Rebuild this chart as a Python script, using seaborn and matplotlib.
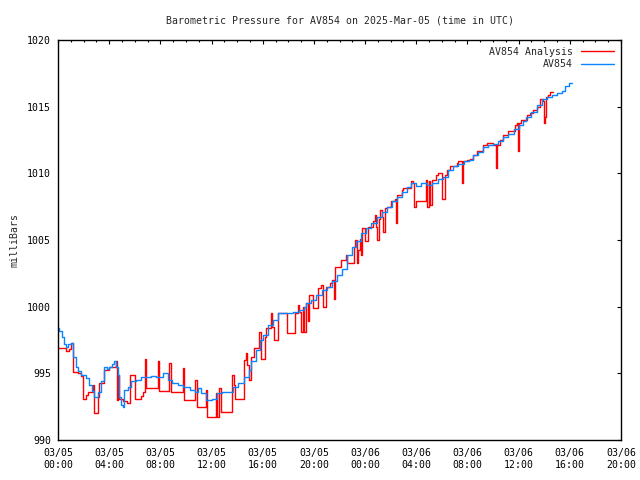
import pandas as pd
import matplotlib
matplotlib.use("Agg")
import matplotlib.pyplot as plt
import matplotlib.dates as mdates
import seaborn as sns

# hours after 2025-03-05 00:00 UTC, pressure in mb
blue_hours = [0.00, 0.10, 0.30, 0.50, 0.63, 0.80, 1.00, 1.15, 1.40, 1.60, 1.80, 2.20, 2.45, 2.65,
              2.84, 3.10, 3.36, 3.60, 3.80, 4.00, 4.20, 4.40, 4.55, 4.66, 4.80, 4.95, 5.05, 5.18,
              5.45, 5.70, 6.10, 6.50, 6.90, 7.30, 7.66, 7.97, 8.20, 8.60, 8.90, 9.40, 9.80, 10.30,
              10.70, 10.96, 11.20, 11.60, 12.00, 12.40, 12.80, 13.30, 13.70, 14.10, 14.50, 14.90,
              15.10, 15.50, 15.80, 16.04, 16.43, 16.80, 17.20, 17.60, 18.10, 18.40, 18.80, 19.20,
              19.40, 19.80, 20.20, 20.60, 21.00, 21.40, 21.80, 22.20, 22.55, 22.95, 23.30, 23.70,
              24.10, 24.50, 24.90, 25.30, 25.70, 26.10, 26.50, 26.85, 27.25, 27.60, 28.00, 28.40,
              28.80, 29.20, 29.70, 30.10, 30.50, 30.90, 31.30, 31.70, 32.10, 32.45, 32.85, 33.20,
              33.60, 34.00, 34.40, 34.80, 35.20, 35.60, 36.00, 36.35, 36.60, 37.00, 37.40, 37.80,
              38.20, 38.60, 39.00, 39.40, 39.60, 39.90, 40.15]
blue_mb = [998.4, 998.2, 997.7, 997.2, 997.0, 997.2, 997.3, 996.2, 995.5, 995.2, 994.9, 994.65, 994.1, 993.7,
           993.25, 993.6, 994.4, 995.5, 995.3, 995.5, 995.7, 995.9, 995.5, 994.9, 993.25, 992.6, 992.5, 993.75,
           994.0, 994.4, 994.5, 994.75, 994.75, 994.8, 994.75, 994.75, 995.0, 994.5, 994.25, 994.1, 994.0, 993.75,
           993.6, 993.9, 993.5, 993.0, 993.1, 993.5, 993.6, 993.6, 994.0, 994.25, 994.75, 995.25,
           995.9, 996.75, 997.5, 997.9, 998.6, 999.0, 999.5, 999.55, 999.55, 999.6, 999.75, 1000.0,
           1000.25, 1000.5, 1000.9, 1001.25, 1001.5, 1001.9, 1002.4, 1002.8, 1003.9, 1004.5, 1004.9, 1005.5,
           1005.9, 1006.25, 1006.75, 1007.1, 1007.5, 1007.9, 1008.25, 1008.6, 1009.0, 1009.25, 1009.05, 1009.25,
           1009.1, 1009.3, 1009.6, 1009.75, 1010.25, 1010.55, 1010.7, 1010.9, 1011.0, 1011.4, 1011.6, 1012.0,
           1012.1, 1012.2, 1012.4, 1012.75, 1012.95, 1013.3, 1013.6, 1013.9, 1014.2, 1014.6, 1015.1, 1015.6,
           1015.75, 1015.9, 1016.05, 1016.2, 1016.55, 1016.8, 1016.8]

red_hours = [0.00, 0.63, 0.88, 1.02, 1.15, 1.55, 1.80, 1.93, 2.19, 2.32, 2.71, 2.80, 3.10, 3.23,
             3.62, 4.00, 4.53, 4.60, 4.71, 4.78, 5.10, 5.37, 5.63, 6.02, 6.48, 6.68, 6.80, 6.90,
             7.78, 7.86, 8.70, 8.80, 9.75, 9.88, 10.70, 10.90, 11.55, 11.65, 12.35, 12.45, 12.60,
             12.72, 13.60, 13.72, 13.83, 14.55, 14.68, 14.80, 14.92, 15.05, 15.30, 15.70, 15.85,
             16.15, 16.28, 16.65, 16.75, 16.85, 17.18, 17.90, 18.50, 18.72, 18.85, 19.00, 19.12,
             19.25, 19.40, 19.50, 19.65, 19.92, 20.30, 20.55, 20.68, 20.98, 21.25, 21.45, 21.55,
             21.65, 22.10, 22.50, 22.62, 23.10, 23.25, 23.35, 23.45, 23.58, 23.66, 23.73, 23.98,
             24.20, 24.60, 24.75, 24.88, 24.95, 25.05, 25.16, 25.29, 25.38, 25.52, 25.68, 26.00,
             26.30, 26.42, 26.52, 26.85, 26.98, 27.60, 27.76, 27.86, 27.98, 28.78, 28.86, 28.96,
             29.06, 29.20, 29.55, 29.70, 29.98, 30.23, 30.37, 30.63, 31.15, 31.27, 31.54, 31.62,
             31.93, 32.19, 32.45, 32.71, 33.23, 33.49, 34.01, 34.22, 34.32, 34.53, 34.79, 35.20,
             35.70, 35.84, 35.96, 36.05, 36.20, 36.62, 36.88, 37.13, 37.40, 37.66, 37.91, 37.97,
             38.05, 38.13, 38.30, 38.44, 38.67]
red_mb = [996.9, 996.7, 996.8, 997.3, 995.1, 995.0, 994.8, 993.1, 993.4, 993.6, 994.1, 992.0, 993.25, 994.25,
          995.25, 995.5, 995.9, 993.0, 994.9, 993.1, 992.9, 992.75, 994.9, 993.1, 993.3, 993.6, 996.1, 993.9,
          995.9, 993.7, 995.75, 993.6, 995.4, 993.0, 994.5, 992.5, 993.75, 991.7, 993.5, 991.7, 993.9,
          992.1, 994.9, 994.1, 993.1, 996.0, 996.5, 995.6, 994.5, 996.25, 996.9, 998.1, 996.1,
          997.75, 998.4, 999.5, 998.5, 997.5, 999.5, 998.0, 999.55, 1000.1, 999.6, 998.1, 1000.0,
          998.1, 1000.25, 998.9, 1000.9, 999.9, 1001.4, 1001.6, 1000.0, 1001.5, 1001.75, 1002.0, 1000.6,
          1003.0, 1003.5, 1003.9, 1003.25, 1004.5, 1005.0, 1003.3, 1004.25, 1005.1, 1003.9, 1005.9, 1004.9,
          1006.0, 1006.4, 1006.9, 1006.0, 1005.0, 1006.6, 1007.25, 1006.75, 1005.6, 1007.4, 1007.5, 1007.9,
          1008.1, 1006.25, 1008.4, 1008.75, 1008.9, 1009.4, 1009.25, 1007.5, 1007.9, 1009.5, 1007.5, 1009.4,
          1007.6, 1009.5, 1009.9, 1010.0, 1008.05, 1009.9, 1010.25, 1010.55, 1010.75, 1010.9, 1009.25, 1010.9,
          1011.0, 1011.1, 1011.4, 1011.7, 1012.1, 1012.25, 1012.1, 1010.4, 1012.1, 1012.5, 1012.9, 1013.2,
          1013.6, 1013.75, 1011.7, 1013.75, 1014.0, 1014.4, 1014.5, 1014.75, 1015.0, 1015.6, 1015.4, 1013.75,
          1014.25, 1015.75, 1015.9, 1016.1, 1016.1]

start = pd.Timestamp("2025-03-05 00:00")
df = pd.concat([
    pd.DataFrame({"time": start + pd.to_timedelta(red_hours, unit="h"), "mb": red_mb,
                  "series": "AV854 Analysis"}),
    pd.DataFrame({"time": start + pd.to_timedelta(blue_hours, unit="h"), "mb": blue_mb,
                  "series": "AV854"}),
], ignore_index=True)

sns.set_style("white")
plt.rcParams["font.family"] = ["DejaVu Sans Mono"]
plt.rcParams["font.size"] = 7.1

fig = plt.figure(figsize=(6.4, 4.8), dpi=100)
ax = fig.add_axes([58 / 640, 40 / 480, 563 / 640, 400 / 480])

sns.lineplot(data=df, x="time", y="mb", hue="series",
             hue_order=["AV854 Analysis", "AV854"],
             palette={"AV854 Analysis": "#ff0000", "AV854": "#0a84ff"},
             estimator=None, sort=False, drawstyle="steps-post", linewidth=1.0, ax=ax)

ax.set_xlim(start, start + pd.Timedelta(hours=44))
ax.set_ylim(990, 1020)
ax.set_yticks(range(990, 1021, 5))
ax.xaxis.set_major_locator(mdates.HourLocator(byhour=range(0, 24, 4)))
ax.xaxis.set_minor_locator(mdates.HourLocator())
ax.xaxis.set_major_formatter(mdates.DateFormatter("%m/%d\n%H:%M"))

for s in ax.spines.values():
    s.set_color("black")
    s.set_linewidth(1.0)
ax.tick_params(which="both", direction="in", top=True, right=True, colors="black",
               labelcolor="black", width=0.8)
ax.tick_params(which="major", length=3, pad=5)
ax.tick_params(which="minor", length=1.5)
ax.tick_params(axis="x", which="major", pad=6)

ax.set_xlabel("")
ax.set_ylabel("milliBars")
ax.yaxis.set_label_coords(-0.068, 0.5)
ax.set_title("Barometric Pressure for AV854 on 2025-Mar-05 (time in UTC)", pad=12, fontsize=7.1)

ax.legend(loc="upper right", frameon=False, markerfirst=False, handlelength=3.4,
          borderaxespad=0.3, labelspacing=0.25, handletextpad=0.8)

fig.savefig("out.png", dpi=100)
